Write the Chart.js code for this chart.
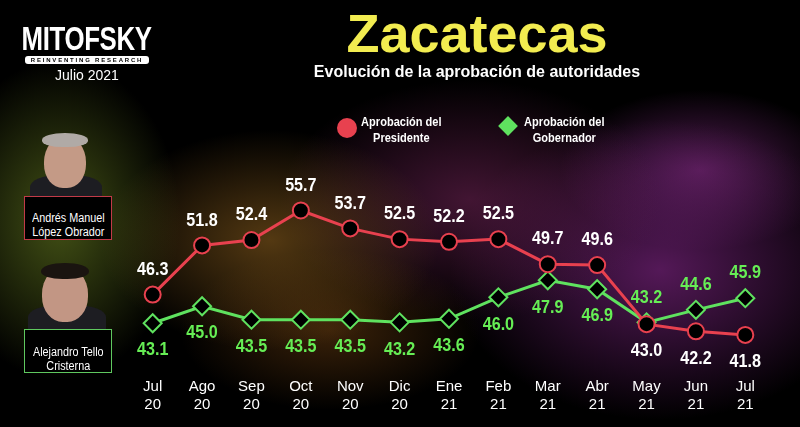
<!DOCTYPE html>
<html>
  <head>
    <title>Zacatecas</title>
    <style>
      html, body {
        margin: 0;
        padding: 0;
        background: #000;
      }
      .stage {
        position: relative;
        width: 800px;
        height: 427px;
        overflow: hidden;
        background:
          radial-gradient(ellipse 120px 160px at 60px 220px, rgba(95, 115, 30, 0.7), transparent),
          radial-gradient(ellipse 170px 110px at 270px 240px, rgba(140, 95, 30, 0.6), transparent),
          radial-gradient(ellipse 150px 80px at 330px 330px, rgba(130, 75, 20, 0.45), transparent),
          radial-gradient(ellipse 190px 120px at 470px 200px, rgba(110, 35, 85, 0.6), transparent),
          radial-gradient(ellipse 210px 150px at 660px 270px, rgba(120, 35, 125, 0.7), transparent),
          radial-gradient(ellipse 140px 80px at 700px 170px, rgba(150, 50, 150, 0.55), transparent),
          #000;
        font-family: "Liberation Sans", Arial, sans-serif;
        color: #fff;
      }
      canvas {
        position: absolute;
        left: 0;
        top: 0;
      }
      .narrow {
        display: inline-block;
        transform: scaleX(0.85);
        transform-origin: center;
        white-space: nowrap;
      }
      .logo {
        position: absolute;
        left: -3px;
        top: 21px;
        width: 180px;
        text-align: center;
      }
      .logo .brand {
        font-weight: bold;
        font-size: 34px;
        line-height: 35px;
        letter-spacing: -0.5px;
      }
      .logo .brand span {
        transform: scaleX(0.76);
      }
      .logo .tag {
        margin: 0 auto;
        width: 124px;
        background: #fff;
        color: #000;
        font-size: 6px;
        font-weight: bold;
        letter-spacing: 1.8px;
        border-radius: 3px;
        line-height: 8px;
      }
      .logo .date {
        font-size: 14px;
        margin-top: 3px;
      }
      .title {
        position: absolute;
        left: 277px;
        width: 400px;
        top: 2px;
        text-align: center;
        color: #f2ec50;
        font-weight: bold;
        font-size: 54px;
      }
      .subtitle {
        position: absolute;
        left: 227px;
        width: 500px;
        top: 63px;
        text-align: center;
        font-weight: bold;
        font-size: 16px;
      }
      .legend-item {
        position: absolute;
        top: 114px;
        width: 110px;
        font-weight: bold;
        font-size: 13px;
        line-height: 16px;
        text-align: center;
      }
      .dot {
        position: absolute;
        left: 337px;
        top: 118px;
        width: 20px;
        height: 20px;
        border-radius: 50%;
        background: #e8414f;
      }
      .diamond {
        position: absolute;
        left: 501px;
        top: 119px;
        width: 14px;
        height: 14px;
        background: #5fe25f;
        transform: rotate(45deg);
      }
      .head {
        position: absolute;
        border-radius: 50% 50% 45% 45%;
        background: #b98a72;
      }
      .body {
        position: absolute;
        border-radius: 40% 40% 0 0;
        background: #1d1d22;
      }
      .namebox {
        position: absolute;
        left: 24px;
        width: 88px;
        background: #000;
        font-size: 12px;
        line-height: 14px;
        text-align: center;
        box-sizing: border-box;
      }
    </style>
  </head>
  <body>
    <div class="stage">
      <!-- figuras de las fotos -->
      <div class="body" style="left: 30px; top: 175px; width: 72px; height: 30px"></div>
      <div class="head" style="left: 44px; top: 136px; width: 42px; height: 52px; background: #c49a86"></div>
      <div class="head" style="left: 42px; top: 133px; width: 46px; height: 14px; background: #b0aaa6"></div>
      <div class="body" style="left: 28px; top: 305px; width: 78px; height: 30px"></div>
      <div class="head" style="left: 42px; top: 266px; width: 46px; height: 56px; background: #c29684"></div>
      <div class="head" style="left: 41px; top: 263px; width: 48px; height: 16px; background: #1a1410"></div>

      <canvas id="chart" width="800" height="427"></canvas>

      <div class="logo">
        <div class="brand"><span class="narrow">MITOFSKY</span></div>
        <div class="tag">REINVENTING RESEARCH</div>
        <div class="date">Julio 2021</div>
      </div>
      <div class="title">Zacatecas</div>
      <div class="subtitle">Evolución de la aprobación de autoridades</div>

      <div class="dot"></div>
      <div class="legend-item" style="left: 346px"><span class="narrow">Aprobación del<br />Presidente</span></div>
      <div class="diamond"></div>
      <div class="legend-item" style="left: 509px"><span class="narrow">Aprobación del<br />Gobernador</span></div>

      <div class="namebox" style="top: 196px; height: 44px; padding-top: 14px; border: 1px solid #c23a48">
        <span class="narrow" style="transform: scaleX(0.9)">Andrés Manuel<br />López Obrador</span>
      </div>
      <div class="namebox" style="top: 329px; height: 44px; padding-top: 15px; border: 1px solid #5fc85f">
        <span class="narrow" style="transform: scaleX(0.9)">Alejandro Tello<br />Cristerna</span>
      </div>
    </div>

    <script src="https://cdn.jsdelivr.net/npm/chart.js"></script>
    <script>
      // Datos
      var meses = [
        ["Jul", "20"], ["Ago", "20"], ["Sep", "20"], ["Oct", "20"],
        ["Nov", "20"], ["Dic", "20"], ["Ene", "21"], ["Feb", "21"],
        ["Mar", "21"], ["Abr", "21"], ["May", "21"], ["Jun", "21"],
        ["Jul", "21"],
      ];
      var presidente = [46.3, 51.8, 52.4, 55.7, 53.7, 52.5, 52.2, 52.5, 49.7, 49.6, 43.0, 42.2, 41.8];
      var gobernador = [43.1, 45.0, 43.5, 43.5, 43.5, 43.2, 43.6, 46.0, 47.9, 46.9, 43.2, 44.6, 45.9];

      // Posición de las etiquetas (arriba / abajo del punto)
      var posPresidente = ["up", "up", "up", "up", "up", "up", "up", "up", "up", "up", "down", "down", "down"];
      var posGobernador = ["down", "down", "down", "down", "down", "down", "down", "down", "down", "down", "up", "up", "up"];

      var etiquetas = {
        id: "etiquetas",
        afterDatasetsDraw: function (chart) {
          var ctx = chart.ctx;
          var conf = [
            { pos: posPresidente, color: "#ffffff" },
            { pos: posGobernador, color: "#66ee55" },
          ];
          ctx.save();
          ctx.font = "bold 19px 'Liberation Sans', sans-serif";
          ctx.textAlign = "center";
          ctx.textBaseline = "middle";
          chart.data.datasets.forEach(function (ds, i) {
            var meta = chart.getDatasetMeta(i);
            meta.data.forEach(function (pt, j) {
              var dy = conf[i].pos[j] === "up" ? -25 : 27;
              ctx.save();
              ctx.translate(pt.x, pt.y + dy);
              ctx.scale(0.85, 1);
              ctx.fillStyle = conf[i].color;
              ctx.fillText(ds.data[j].toFixed(1), 0, 0);
              ctx.restore();
            });
          });
          ctx.restore();
        },
      };

      new Chart(document.getElementById("chart"), {
        type: "line",
        data: {
          labels: meses,
          datasets: [
            {
              label: "Aprobación del Presidente",
              data: presidente,
              borderColor: "#e8414f",
              borderWidth: 3,
              pointStyle: "circle",
              pointRadius: 8,
              pointBorderWidth: 2,
              pointBackgroundColor: "#000",
              pointBorderColor: "#e8414f",
              tension: 0,
            },
            {
              label: "Aprobación del Gobernador",
              data: gobernador,
              borderColor: "#5fe25f",
              borderWidth: 3,
              pointStyle: "rectRot",
              pointRadius: 9,
              pointBorderWidth: 2,
              pointBackgroundColor: "#000",
              pointBorderColor: "#5fe25f",
              tension: 0,
            },
          ],
        },
        options: {
          responsive: false,
          animation: false,
          layout: {
            padding: { left: 128, right: 30, top: 172, bottom: 6 },
          },
          plugins: {
            legend: { display: false },
            tooltip: { enabled: false },
          },
          scales: {
            x: {
              offset: true,
              grid: { display: false },
              border: { display: false },
              afterFit: function (scale) {
                scale.height = 70;
              },
              ticks: {
                color: "#ffffff",
                padding: 18,
                font: {
                  family: "'Liberation Sans', sans-serif",
                  size: 15,
                  lineHeight: 1.25,
                },
                maxRotation: 0,
              },
            },
            y: {
              display: false,
              min: 40,
              max: 60,
            },
          },
        },
        plugins: [etiquetas],
      });
    </script>
  </body>
</html>
